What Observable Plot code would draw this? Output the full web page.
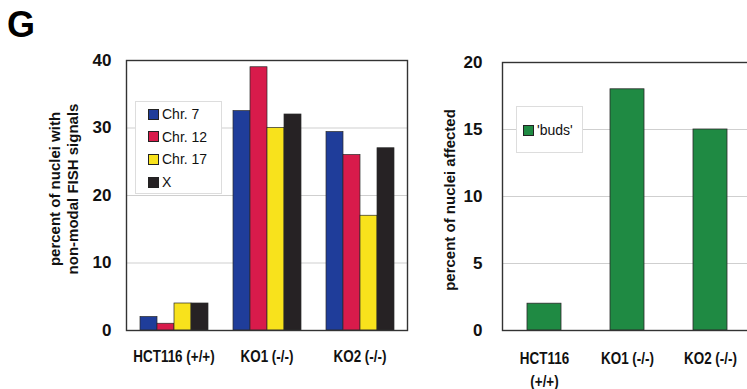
<!DOCTYPE html>
<html>
<head>
<meta charset="utf-8">
<script src="https://cdn.jsdelivr.net/npm/d3@7"></script>
<script src="https://cdn.jsdelivr.net/npm/@observablehq/plot@0.6"></script>
<style>
  html, body { margin: 0; padding: 0; background: #fff; }
  #wrap { position: relative; width: 747px; height: 389px; overflow: hidden; background: #fff; font-family: "Liberation Sans", Arial, sans-serif; }
  .layer { position: absolute; top: 0; }
  .layer svg { display: block; max-width: none !important; background: transparent !important; }
  .ylab { position: absolute; font-weight: bold; font-size: 15px; line-height: 18px; text-align: center; white-space: nowrap; transform: rotate(-90deg); color: #111; }
  .legend { position: absolute; border: 1px solid #ddd; background: #fff; font-size: 14px; color: #111; box-sizing: border-box; }
  .legend .row { position: absolute; display: flex; align-items: center; height: 18px; }
  .legend .sw { width: 9px; height: 9px; border: 1px solid #222; margin-right: 3px; }
  #G { position: absolute; left: 7px; top: 4px; font-size: 36px; font-weight: bold; color: #000; }
</style>
</head>
<body>
<div id="wrap"></div>
<script>
// ---- data ----
const groups = ["HCT116 (+/+)", "KO1 (-/-)", "KO2 (-/-)"];
const series = ["Chr. 7", "Chr. 12", "Chr. 17", "X"];
const chr7 = [2, 32.5, 29.4];
const chr12 = [1, 39, 26];
const chr17 = [4, 30, 17];
const chrX = [4, 32, 27];
const seriesColors = ["#1f3d9a", "#d81b4b", "#f8e21c", "#262224"];
const leftTicks = [0, 10, 20, 30, 40];

const budGroups = ["HCT116\n(+/+)", "KO1 (-/-)", "KO2 (-/-)"];
const budSeries = ["'buds'"];
const buds = [2, 18, 15];
const budColor = ["#1f8a43"];
const rightTicks = [0, 5, 10, 15, 20];

const leftTitle = "percent of nuclei with\nnon-modal FISH signals";
const rightTitle = "percent of nuclei affected";
const panelLetter = "G";

// ---- table ----
const seriesValues = [chr7, chr12, chr17, chrX];
const fishData = [];
groups.forEach((g, i) => series.forEach((s, j) => fishData.push({group: g, series: s, value: seriesValues[j][i]})));
const budData = budGroups.map((g, i) => ({group: g, series: budSeries[0], value: buds[i]}));

const wrap = document.getElementById("wrap");
const regular = "'Liberation Sans', Arial, sans-serif";

// narrow look for category labels (the original uses a condensed bold face)
function condenseX(svg) {
  d3.select(svg).selectAll('g[aria-label="x-axis tick label"] text').each(function () {
    const t = d3.select(this);
    const tr = t.attr("transform") || "";
    t.attr("transform", tr + " scale(0.84,1)");
  });
  return svg;
}

function addLayer(svg, left) {
  const d = document.createElement("div");
  d.className = "layer";
  d.style.left = left + "px";
  d.appendChild(svg);
  wrap.appendChild(d);
}

// ---- left panel ----
const L = {width: 420, height: 389, marginLeft: 126, marginRight: 13, marginTop: 60, marginBottom: 59};
addLayer(condenseX(Plot.plot({
  ...L,
  style: {background: "transparent", overflow: "visible"},
  x: {type: "band", domain: groups, padding: 0},
  y: {domain: [0, 40]},
  marks: [
    Plot.ruleY([10, 20, 30], {stroke: "#cfcfcf", strokeWidth: 1}),
    Plot.axisX({tickSize: 0, tickPadding: 20, label: null, fontFamily: regular, fontWeight: "bold", fontSize: 16, fill: "#111"}),
    Plot.axisY({ticks: leftTicks, tickSize: 0, tickPadding: 15, label: null, fontFamily: regular, fontWeight: "bold", fontSize: 17, fill: "#111"})
  ]
})), 0);
addLayer(Plot.plot({
  ...L,
  style: {background: "transparent", overflow: "visible"},
  fx: {domain: groups, padding: 0, axis: null},
  x: {domain: series, paddingInner: 0, paddingOuter: 0.72, axis: null},
  y: {domain: [0, 40], axis: null},
  color: {domain: series, range: seriesColors},
  marks: [
    Plot.barY(fishData, {fx: "group", x: "series", y: "value", fill: "series", stroke: "#2a2a2a", strokeWidth: 0.7})
  ]
}), 0);
addLayer(Plot.plot({
  ...L,
  style: {background: "transparent", overflow: "visible"},
  x: {type: "band", domain: groups, padding: 0, axis: null},
  y: {domain: [0, 40], axis: null},
  marks: [Plot.frame({stroke: "#333", strokeWidth: 1.4})]
}), 0);

// ---- right panel ----
const R = {width: 340, height: 389, marginLeft: 82, marginRight: 7, marginTop: 62, marginBottom: 59};
addLayer(condenseX(Plot.plot({
  ...R,
  style: {background: "transparent", overflow: "visible"},
  x: {domain: budGroups, paddingInner: 0.59, paddingOuter: 0.295},
  y: {domain: [0, 20]},
  color: {domain: budSeries, range: budColor},
  marks: [
    Plot.ruleY([5, 10, 15], {stroke: "#cfcfcf", strokeWidth: 1}),
    Plot.barY(budData, {x: "group", y: "value", fill: "series", stroke: "#2a2a2a", strokeWidth: 0.8}),
    Plot.frame({stroke: "#333", strokeWidth: 1.4}),
    Plot.axisX({tickSize: 0, tickPadding: 18, label: null, lineHeight: 1.4, fontFamily: regular, fontWeight: "bold", fontSize: 16, fill: "#111"}),
    Plot.axisY({ticks: rightTicks, tickSize: 0, tickPadding: 20, label: null, fontFamily: regular, fontWeight: "bold", fontSize: 17, fill: "#111"})
  ]
})), 420);

// ---- html text: panel letter, axis titles, legends ----
const g = document.createElement("div"); g.id = "G"; g.textContent = panelLetter; wrap.appendChild(g);

function yTitle(text, cx, cy, w, h) {
  const d = document.createElement("div");
  d.className = "ylab";
  d.style.width = w + "px"; d.style.height = h + "px";
  d.style.left = (cx - w / 2) + "px"; d.style.top = (cy - h / 2) + "px";
  d.innerHTML = text.split("\n").map(t => `<div>${t}</div>`).join("");
  wrap.appendChild(d);
}
yTitle(leftTitle, 64, 189, 210, 36);
yTitle(rightTitle, 450, 200, 210, 18);

function legend(items, colors, left, top, w, h, padX, firstY, pitch) {
  const box = document.createElement("div");
  box.className = "legend";
  Object.assign(box.style, {left: left + "px", top: top + "px", width: w + "px", height: h + "px"});
  items.forEach((s, i) => {
    const r = document.createElement("div");
    r.className = "row";
    r.style.left = padX + "px"; r.style.top = (firstY + i * pitch) + "px";
    r.innerHTML = `<div class="sw" style="background:${colors[i]}"></div><span>${s}</span>`;
    box.appendChild(r);
  });
  wrap.appendChild(box);
}
legend(series, seriesColors, 135, 101, 87, 93, 12, 3, 22.7);
legend(budSeries, budColor, 516, 106, 67, 47, 6, 14, 22.7);
</script>
</body>
</html>
